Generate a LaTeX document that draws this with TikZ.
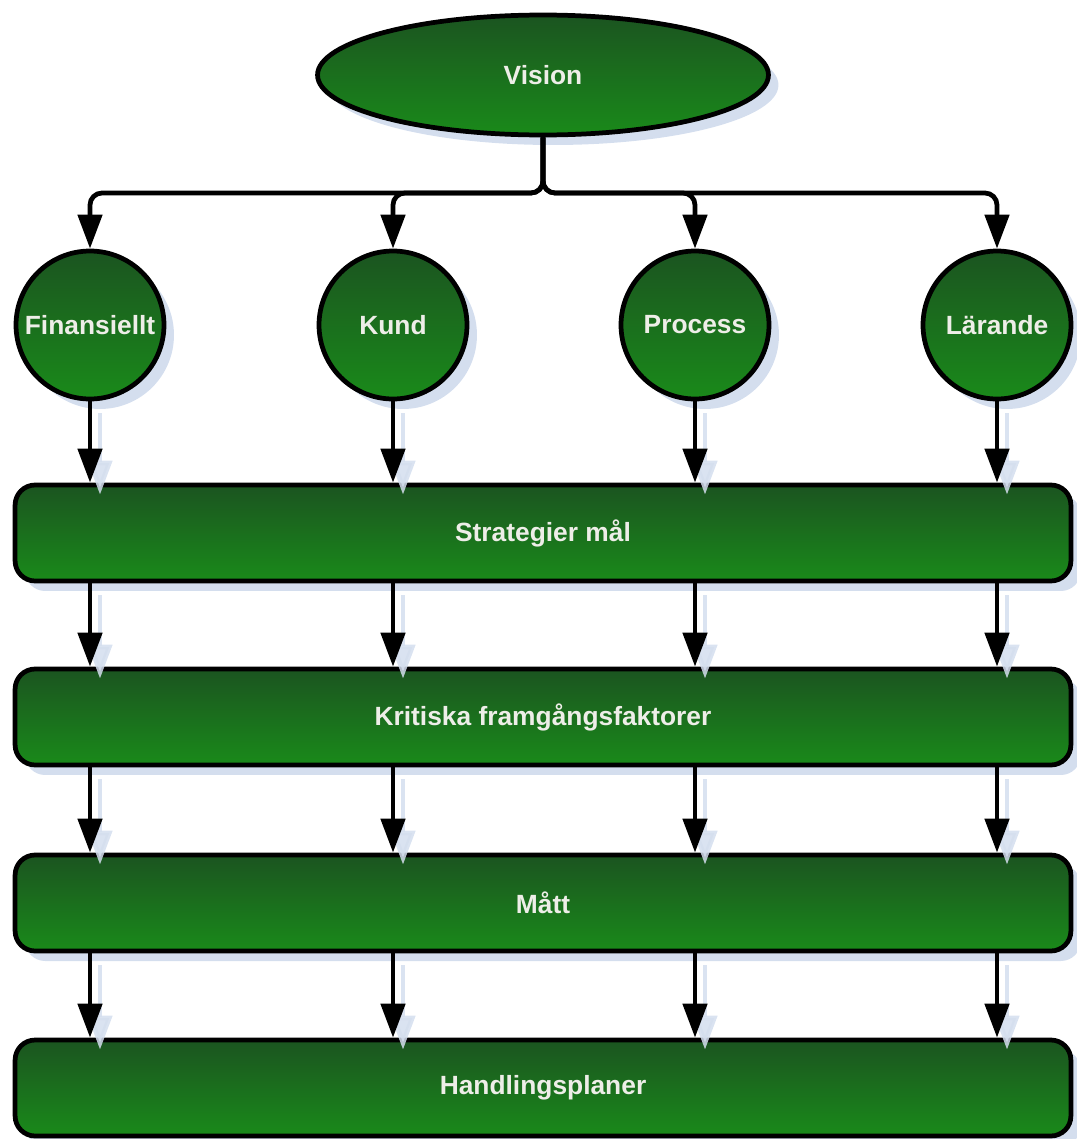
\documentclass[tikz,border=0pt]{standalone}
\usepackage{fontspec}
\setmainfont{Liberation Sans}
\usetikzlibrary{arrows.meta,shapes.geometric,shadows}
\definecolor{bscdark}{RGB}{27,84,32}
\definecolor{bsclight}{RGB}{26,138,26}
\definecolor{shadowblue}{RGB}{212,222,238}
\definecolor{labelgrey}{RGB}{238,238,232}
\tikzset{
	bsc/.style={draw=black, line width=2.7pt, top color=bscdark, bottom color=bsclight, text=labelgrey,
		font=\fontsize{15}{17}\selectfont\bfseries,
		drop shadow={shadow xshift=0.2cm, shadow yshift=-0.2cm, fill=shadowblue, opacity=1}},
	goal/.style={bsc, ellipse, minimum width=9.02cm, minimum height=2.4cm},
	persp/.style={bsc, circle, inner sep=0pt, minimum size=2.96cm},
	level/.style={bsc, rectangle, rounded corners=0.4cm, minimum width=21.12cm, minimum height=1.92cm},
	arr/.style={line width=2.7pt, -{Triangle[width=0.48cm,length=0.68cm]}},
	arrshadow/.style={arr, draw=shadowblue, opacity=0.85, transform canvas={shift={(0.2cm,-0.24cm)}}},
}
\begin{document}
\begin{tikzpicture}[x=0.02cm,y=-0.02cm]
	\useasboundingbox (0,0) rectangle (1076,1139);
	
	% top: vision
	\node[goal] (vis) at (543,75) {Vision};
	\coordinate (hub) at (543,193);
	
	% the four perspectives
	\node[persp] (fin) at (90,325) {Finansiellt};
	\node[persp] (kund) at (393,325) {Kund};
	\node[persp] (proc) at (695,325) {Process};
	\node[persp] (lar) at (997,325) {Lärande};
	
	% levels
	\node[level] (strat) at (543,533) {Strategier mål};
	\node[level] (krit) at (543,717) {Kritiska framgångsfaktorer};
	\node[level] (matt) at (543,903) {Mått};
	\node[level] (hand) at (543,1088) {Handlingsplaner};
	
	% vision branches out to the perspectives
	\foreach \c in {fin,kund,proc,lar}
		\draw[arr, rounded corners=0.24cm] (vis.south) -- (hub) -| (\c.north);
	
	% shadows of the downward arrows
	\foreach \c in {fin,kund,proc,lar} {
		\draw[arrshadow] (\c.south) -- (\c |- strat.north);
		\draw[arrshadow] (\c |- strat.south) -- (\c |- krit.north);
		\draw[arrshadow] (\c |- krit.south) -- (\c |- matt.north);
		\draw[arrshadow] (\c |- matt.south) -- (\c |- hand.north);
	}
	
	% downward arrows
	\foreach \c in {fin,kund,proc,lar} {
		\draw[arr] (\c.south) -- (\c |- strat.north);
		\draw[arr] (\c |- strat.south) -- (\c |- krit.north);
		\draw[arr] (\c |- krit.south) -- (\c |- matt.north);
		\draw[arr] (\c |- matt.south) -- (\c |- hand.north);
	}
	
\end{tikzpicture}
\end{document}
